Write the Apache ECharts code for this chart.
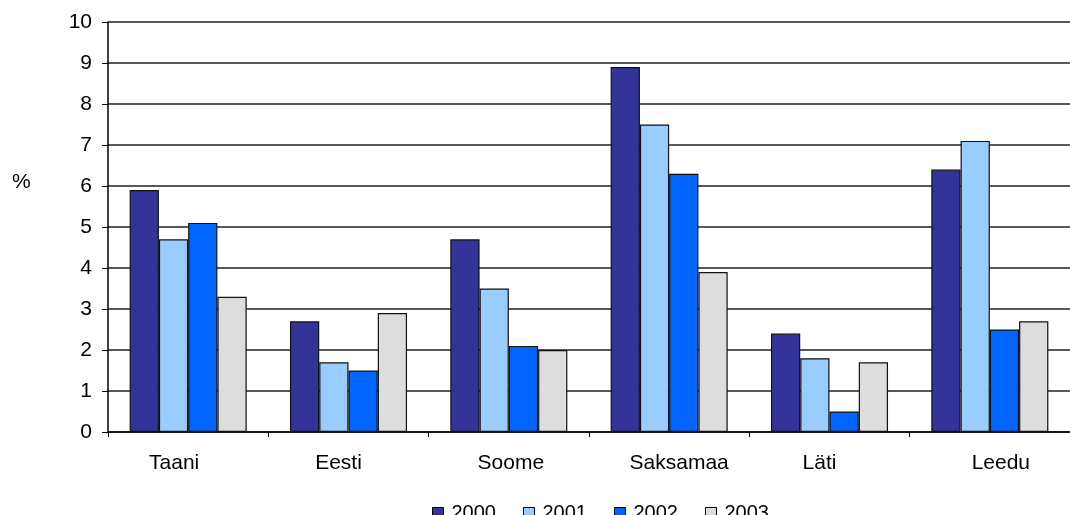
<!DOCTYPE html>
<html>
<head>
<meta charset="utf-8">
<script src="https://cdn.jsdelivr.net/npm/echarts@6/dist/echarts.min.js"></script>
<style>
  html, body { margin: 0; padding: 0; background: #fff; }
  #chart { width: 1070px; height: 515px; }
</style>
</head>
<body>
<div id="chart"></div>
<script>
// Countries and yearly values (%)
const countries = ['Taani', 'Eesti', 'Soome', 'Saksamaa', 'Läti', 'Leedu'];
const years = ['2000', '2001', '2002', '2003'];
const v2000 = [5.9, 2.7, 4.7, 8.9, 2.4, 6.4];
const v2001 = [4.7, 1.7, 3.5, 7.5, 1.8, 7.1];
const v2002 = [5.1, 1.5, 2.1, 6.3, 0.5, 2.5];
const v2003 = [3.3, 2.9, 2.0, 3.9, 1.7, 2.7];
const yTicks = [0, 1, 2, 3, 4, 5, 6, 7, 8, 9, 10];

const seriesValues = [v2000, v2001, v2002, v2003];
const colors = ['#333399', '#99CCFF', '#0066FF', '#DDDDDD'];
const font = 'Arial, "Liberation Sans", sans-serif';
const fontSize = 21;

// horizontal nudge (px) of each category label relative to its slot centre
const labelShift = [-14, -10, 2, 10, -10, 11];
const labelRich = {};
labelShift.forEach((s, i) => {
  labelRich['c' + i] = {
    fontFamily: font, fontSize: fontSize, color: '#000',
    padding: s < 0 ? [0, -2 * s, 0, 0] : [0, 0, 0, 2 * s]
  };
});

const chart = echarts.init(document.getElementById('chart'), null, { renderer: 'canvas' });

chart.setOption({
  animation: false,
  backgroundColor: '#fff',
  color: colors,
  grid: { left: 108, top: 22, width: 973, height: 410, containLabel: false },
  graphic: [{
    type: 'text',
    left: 12,
    top: 172,
    style: { text: '%', font: fontSize + 'px ' + font, fill: '#000' }
  }],
  legend: {
    top: 503,
    left: 432,
    padding: 0,
    itemWidth: 11,
    itemHeight: 11,
    itemGap: 27,
    icon: 'rect',
    textStyle: { fontFamily: font, fontSize: 20, color: '#000', padding: [0, 0, 0, 3] },
    itemStyle: { borderColor: '#000', borderWidth: 1 },
    data: years
  },
  xAxis: {
    type: 'category',
    data: countries,
    boundaryGap: true,
    axisLine: { show: true, lineStyle: { color: '#000', width: 1.5 } },
    axisTick: { show: true, interval: 0, length: 5, alignWithLabel: false, lineStyle: { color: '#000', width: 1 } },
    axisLabel: {
      interval: 0, hideOverlap: false,
      fontFamily: font, fontSize: fontSize, color: '#000', margin: 21,
      formatter: (value, idx) => '{c' + idx + '|' + value + '}',
      rich: labelRich
    },
    splitLine: { show: false }
  },
  yAxis: {
    type: 'value',
    min: yTicks[0],
    max: yTicks[yTicks.length - 1],
    interval: 1,
    axisLine: { show: true, lineStyle: { color: '#000', width: 1.5 } },
    axisTick: { show: true, length: 6, lineStyle: { color: '#000', width: 1 } },
    axisLabel: { fontFamily: font, fontSize: fontSize, color: '#000', margin: 16 },
    splitLine: { show: true, lineStyle: { color: '#222', width: 1.5 } }
  },
  series: years.map((y, i) => ({
    name: y,
    type: 'bar',
    data: seriesValues[i],
    barGap: '0%',
    barCategoryGap: '27%',
    itemStyle: { color: colors[i], borderColor: '#111', borderWidth: 1.2 }
  }))
});
</script>
</body>
</html>
